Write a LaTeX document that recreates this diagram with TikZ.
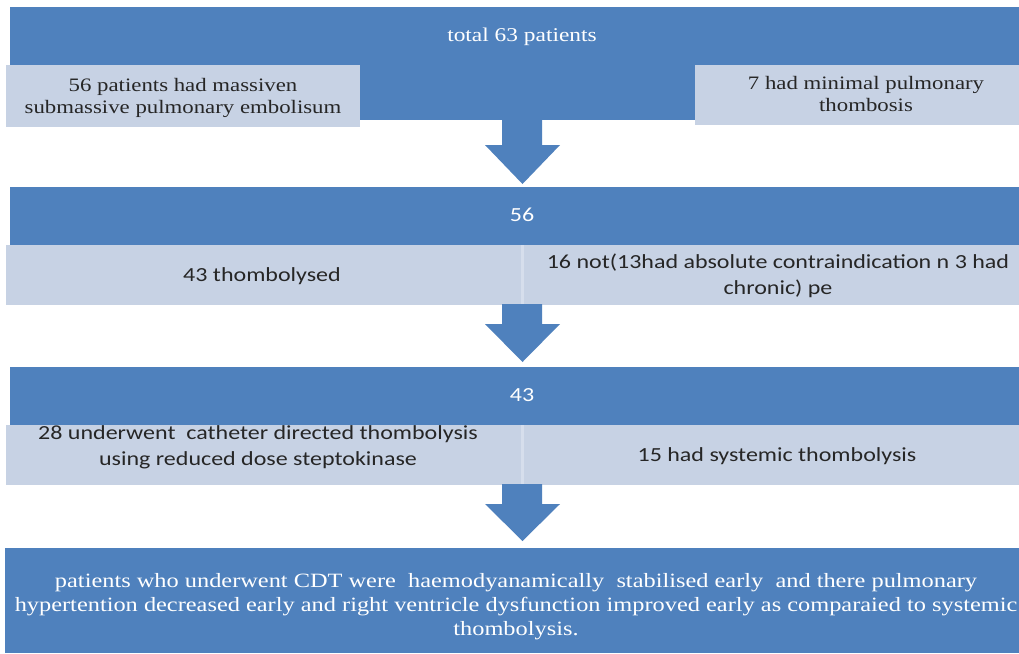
\documentclass[tikz,border=0pt]{standalone}
\usepackage{fontspec}
\setmainfont[FakeStretch=1.2]{Liberation Serif}
\newfontfamily\calib[FakeStretch=1.2]{Carlito}
\definecolor{barblue}{RGB}{79,129,189}
\definecolor{lightbox}{RGB}{199,210,228}
\definecolor{liteedge}{RGB}{214,222,236}
\begin{document}
\begin{tikzpicture}[x=1pt,y=-1pt,
  barbox/.style={fill=barblue, draw=none, anchor=north west, inner sep=0pt},
  litebox/.style={fill=lightbox, draw=none, anchor=north west, inner sep=0pt},
  wserif/.style={text=white, font=\fontsize{19.5}{22}\selectfont, align=center, inner sep=0pt},
  dserif/.style={text=black!85, font=\fontsize{19}{22}\selectfont, align=center, inner sep=0pt},
  wsans/.style={text=white, font=\calib\fontsize{20}{26}\selectfont, align=center, inner sep=0pt},
  dsans/.style={text=black!85, font=\calib\fontsize{20}{26}\selectfont, align=center, inner sep=0pt},
  blockarrow/.style={fill=barblue, draw=none}]
\useasboundingbox (0,0) rectangle (1019,653);
\fill[white] (0,0) rectangle (1019,653);
% level 1
\node[barbox, minimum width=1009pt, minimum height=113pt] (bar1) at (10,7) {};
\node[wserif] (t1) at (522,37) {total 63 patients};
\node[litebox, minimum width=354pt, minimum height=62pt] (b1a) at (6,65) {};
\node[litebox, minimum width=324pt, minimum height=60pt] (b1b) at (695,65) {};
\node[dserif] (t1a) at (183,98) {56 patients had massiven\\submassive pulmonary embolisum};
\node[dserif] (t1b) at (866,94) {7 had minimal  pulmonary\\thombosis};
\fill[blockarrow] (502,119) -- (542,119) -- (542,145) -- (560,145) -- (522.5,184) -- (485,145) -- (502,145) -- cycle;
% level 2
\node[barbox, minimum width=1009pt, minimum height=59pt] (bar2) at (10,187) {};
\node[wsans] (t2) at (522,215) {56};
\node[litebox, minimum width=516pt, minimum height=60pt] (b2a) at (6,245) {};
\node[litebox, minimum width=497pt, minimum height=60pt] (b2b) at (522,245) {};
\draw[liteedge, line width=3pt] (b2b.north west) -- (b2b.south west);
\node[dsans] (t2a) at (262,276) {43 thombolysed};
\node[dsans] (t2b) at (778,276) {16 not(13had absolute contraindication n 3 had\\chronic) pe};
\fill[blockarrow] (502,304) -- (542,304) -- (542,324) -- (560,324) -- (522.5,362) -- (485,324) -- (502,324) -- cycle;
% level 3
\node[barbox, minimum width=1009pt, minimum height=59pt] (bar3) at (10,367) {};
\node[wsans] (t3) at (522,395) {43};
\node[litebox, minimum width=516pt, minimum height=60pt] (b3a) at (6,425) {};
\node[litebox, minimum width=497pt, minimum height=60pt] (b3b) at (522,425) {};
\draw[liteedge, line width=3pt] (b3b.north west) -- (b3b.south west);
\node[dsans] (t3a) at (258,447) {28 underwent\ \ catheter directed thombolysis\\using reduced dose steptokinase};
\node[dsans] (t3b) at (777,456) {15 had systemic thombolysis};
\fill[blockarrow] (502,484) -- (542,484) -- (542,504) -- (560,504) -- (522.5,541) -- (485,504) -- (502,504) -- cycle;
% level 4
\node[barbox, minimum width=1014pt, minimum height=105pt] (bar4) at (5,548) {};
\node[wserif, font=\fontsize{20.3}{24}\selectfont] (t4) at (516,607) {patients who underwent CDT were\ \ haemodyanamically\ \ stabilised early\ \ and there pulmonary\\hypertention decreased early and right ventricle dysfunction improved early as comparaied to systemic\\thombolysis.};
\end{tikzpicture}
\end{document}
